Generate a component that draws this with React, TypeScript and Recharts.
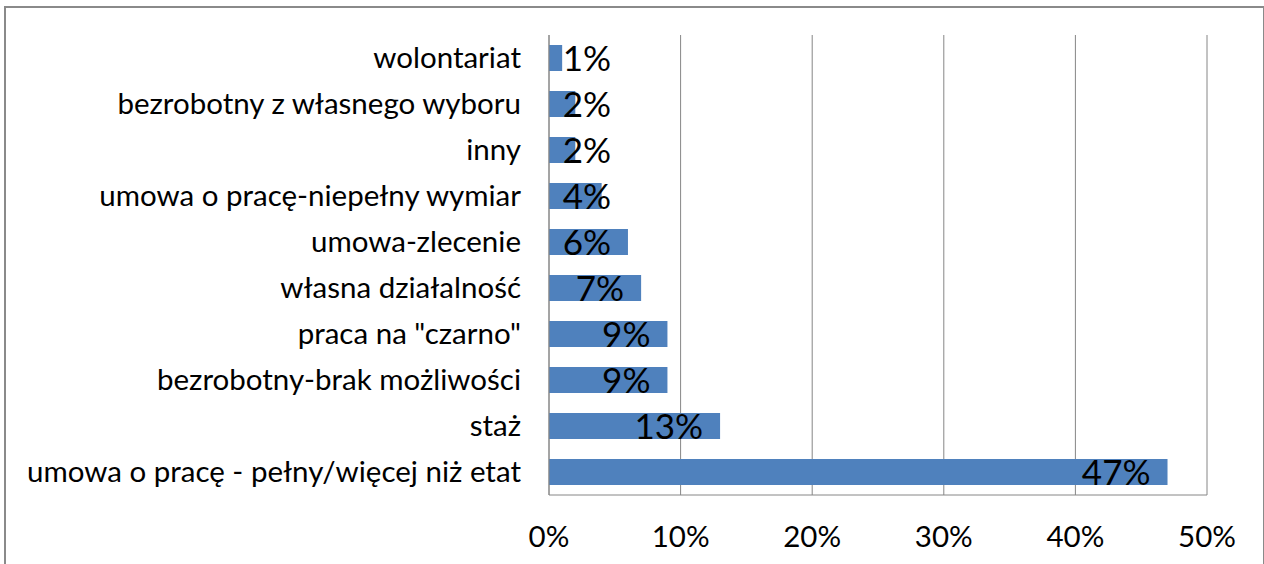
import React from 'react';
import { BarChart, Bar, XAxis, YAxis, CartesianGrid, LabelList } from 'recharts';

// categories top -> bottom, shares in percent
const categories = [
    'wolontariat',
    'bezrobotny z własnego wyboru',
    'inny',
    'umowa o pracę-niepełny wymiar',
    'umowa-zlecenie',
    'własna działalność',
    'praca na "czarno"',
    'bezrobotny-brak możliwości',
    'staż',
    'umowa o pracę - pełny/więcej niż etat',
];
const shares = [1, 2, 2, 4, 6, 7, 9, 9, 13, 47];
const percentTicks = [0, 10, 20, 30, 40, 50];

const data = categories.map((name, i) => ({ name, value: shares[i] }));

const FONT = 'Lato, "Open Sans", sans-serif';
const GRID = '#868686';

// Excel-style "inside end" label, pushed right when the bar is too short
function ValueLabel(props: any) {
    const { x, y, width, height, value } = props;
    const end = Math.max(x + width - 17, x + 62);
    return (
        <text x={end} y={y + height / 2 + 13} textAnchor="end" fontSize={35} fontFamily={FONT} fill="#000">
            {value}%
        </text>
    );
}

export default function App() {
    return (
        <div style={{ position: 'absolute', left: 0, top: 0, width: 1264, height: 564, overflow: 'hidden', background: '#fff' }}>
            <div
                style={{
                    position: 'absolute',
                    left: 4,
                    top: 6,
                    width: 1257,
                    height: 620,
                    borderTop: '2px solid #8a8a8a',
                    borderLeft: '2px solid #8a8a8a',
                    borderRight: '2px solid #8a8a8a',
                }}
            />
            <div style={{ position: 'absolute', left: 0, top: 0 }}>
                <BarChart
                    width={1264}
                    height={564}
                    data={data}
                    layout="vertical"
                    margin={{ top: 35, right: 57, bottom: 0, left: 0 }}
                    barSize={26}
                >
                    <CartesianGrid horizontal={false} stroke={GRID} />
                    <XAxis
                        type="number"
                        domain={[0, 50]}
                        ticks={percentTicks}
                        tickFormatter={(v) => `${v}%`}
                        height={69}
                        tickSize={0}
                        tickMargin={31}
                        axisLine={{ stroke: GRID }}
                        tick={{ fill: '#000', fontSize: 29.5, fontFamily: FONT }}
                        interval={0}
                    />
                    <YAxis
                        type="category"
                        dataKey="name"
                        width={549}
                        tickSize={0}
                        tickMargin={28}
                        axisLine={{ stroke: GRID }}
                        tick={{ fill: '#000', fontSize: 29.5, fontFamily: FONT }}
                        interval={0}
                    />
                    <Bar dataKey="value" fill="#4F81BD" isAnimationActive={false}>
                        <LabelList dataKey="value" content={ValueLabel} />
                    </Bar>
                </BarChart>
            </div>
        </div>
    );
}
